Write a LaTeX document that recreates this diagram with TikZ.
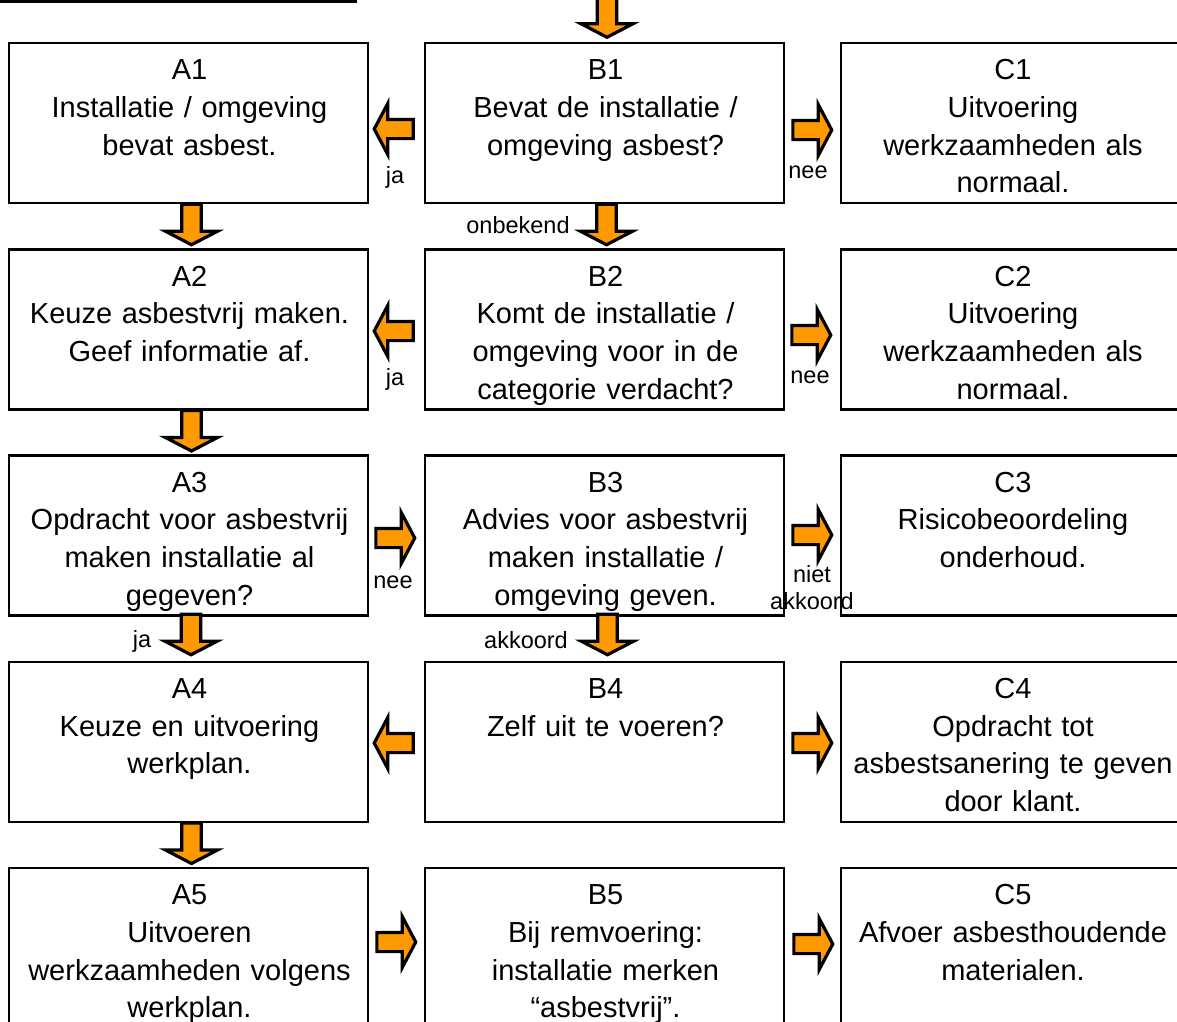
\documentclass[tikz,border=0pt]{standalone}
\usepackage{fontspec}
\setmainfont{Liberation Sans}
\usetikzlibrary{calc}
\definecolor{arrorange}{RGB}{255,153,0}
\tikzset{
 box/.style={draw, line width=2.5pt, minimum width=359pt, minimum height=160pt, inner sep=0pt},
 cbox/.style={box, minimum width=344pt},
 txt/.style={anchor=base, text width=359pt, align=center, inner sep=0pt, font=\fontsize{29.0}{37.7}\selectfont},
 lbl/.style={anchor=base, inner sep=0pt, font=\fontsize{23.5}{27}\selectfont},
 lbl2/.style={lbl, text width=100pt, align=center},
 blk/.style={draw=black, fill=arrorange, line width=3.2pt, line join=miter},
}
\newcommand\rightarr[1]{\draw[blk, shift={#1}] (1.6,-9.6) -- (27,-9.6) -- (27,-25.5) -- (40.5,0) -- (27,25.5) -- (27,9.6) -- (1.6,9.6) -- cycle;}
\newcommand\leftarr[1]{\draw[blk, shift={#1}] (-1.6,-9.6) -- (-27,-9.6) -- (-27,-25.5) -- (-40.5,0) -- (-27,25.5) -- (-27,9.6) -- (-1.6,9.6) -- cycle;}
\newcommand\downarr[1]{\draw[blk, shift={#1}] (-9.8,0) -- (-9.8,27) -- (-26,27) -- (0,40.5) -- (26,27) -- (9.8,27) -- (9.8,0) -- cycle;}
\begin{document}
\begin{tikzpicture}[x=1pt,y=-1pt]
\useasboundingbox (0,0) rectangle (1177,1021);
\clip (0,0) rectangle (1177,1021);
\fill[white] (0,0) rectangle (1177,1021);
\draw[line width=3pt] (0,1.5) -- (357,1.5);
% boxes
\node[box] (A1) at (188.5,123) {};
\node[box] (B1) at (604.5,123) {};
\node[cbox] (C1) at (1013,123) {};
\node[box] (A2) at (188.5,329.25) {};
\node[box] (B2) at (604.5,329.25) {};
\node[cbox] (C2) at (1013,329.25) {};
\node[box] (A3) at (188.5,535.5) {};
\node[box] (B3) at (604.5,535.5) {};
\node[cbox] (C3) at (1013,535.5) {};
\node[box] (A4) at (188.5,741.75) {};
\node[box] (B4) at (604.5,741.75) {};
\node[cbox] (C4) at (1013,741.75) {};
\node[box] (A5) at (188.5,948) {};
\node[box] (B5) at (604.5,948) {};
\node[cbox] (C5) at (1013,948) {};
% texts
\node[txt] (A1t) at ($(A1.north)+(1,38)$) {A1\\Installatie / omgeving\\bevat asbest.};
\node[txt] (B1t) at ($(B1.north)+(1,38)$) {B1\\Bevat de installatie /\\omgeving asbest?};
\node[txt] (C1t) at ($(C1.north)+(0,38)$) {C1\\Uitvoering\\werkzaamheden als\\normaal.};
\node[txt] (A2t) at ($(A2.north)+(1,38)$) {A2\\Keuze asbestvrij maken.\\Geef informatie af.};
\node[txt] (B2t) at ($(B2.north)+(1,38)$) {B2\\Komt de installatie /\\omgeving voor in de\\categorie verdacht?};
\node[txt] (C2t) at ($(C2.north)+(0,38)$) {C2\\Uitvoering\\werkzaamheden als\\normaal.};
\node[txt] (A3t) at ($(A3.north)+(1,38)$) {A3\\Opdracht voor asbestvrij\\maken installatie al\\gegeven?};
\node[txt] (B3t) at ($(B3.north)+(1,38)$) {B3\\Advies voor asbestvrij\\maken installatie /\\omgeving geven.};
\node[txt] (C3t) at ($(C3.north)+(0,38)$) {C3\\Risicobeoordeling\\onderhoud.};
\node[txt] (A4t) at ($(A4.north)+(1,38)$) {A4\\Keuze en uitvoering\\werkplan.};
\node[txt] (B4t) at ($(B4.north)+(1,38)$) {B4\\Zelf uit te voeren?};
\node[txt] (C4t) at ($(C4.north)+(0,38)$) {C4\\Opdracht tot\\asbestsanering te geven\\door klant.};
\node[txt] (A5t) at ($(A5.north)+(1,38)$) {A5\\Uitvoeren\\werkzaamheden volgens\\werkplan.};
\node[txt] (B5t) at ($(B5.north)+(1,38)$) {B5\\Bij remvoering:\\installatie merken\\“asbestvrij”.};
\node[txt] (C5t) at ($(C5.north)+(0,38)$) {C5\\Afvoer asbesthoudende\\materialen.};
% arrows
\downarr{($(B1.north)+(2.5,-45)$)}
\downarr{($(A1.south)+(3,0)$)}
\downarr{($(B1.south)+(2,0)$)}
\downarr{($(A2.south)+(3,0)$)}
\downarr{($(A3.south)+(2.5,-2.5)$)}
\downarr{($(B3.south)+(3,-2.5)$)}
\downarr{($(A4.south)+(3,0)$)}
\leftarr{($(B1.west)+(-9,6)$)}
\rightarr{($(B1.east)+(6,7)$)}
\leftarr{($(B2.west)+(-9,1.75)$)}
\rightarr{($(B2.east)+(5,5.75)$)}
\rightarr{($(A3.east)+(5,2.5)$)}
\rightarr{($(B3.east)+(6,-0.5)$)}
\leftarr{($(B4.west)+(-9,1.25)$)}
\rightarr{($(B4.east)+(6,1.25)$)}
\rightarr{($(A5.east)+(6,-6)$)}
\rightarr{($(B5.east)+(7,-4)$)}
% labels
\node[lbl] (l1) at (395,183) {ja};
\node[lbl] (l2) at (808,178) {nee};
\node[lbl] (l3) at (518,233.5) {onbekend};
\node[lbl] (l4) at (395,385) {ja};
\node[lbl] (l5) at (810,383) {nee};
\node[lbl] (l6) at (393,588) {nee};
\node[lbl2] (l7) at (812,582) {niet\\akkoord};
\node[lbl] (l8) at (142,647) {ja};
\node[lbl] (l9) at (526,648) {akkoord};
\end{tikzpicture}
\end{document}
